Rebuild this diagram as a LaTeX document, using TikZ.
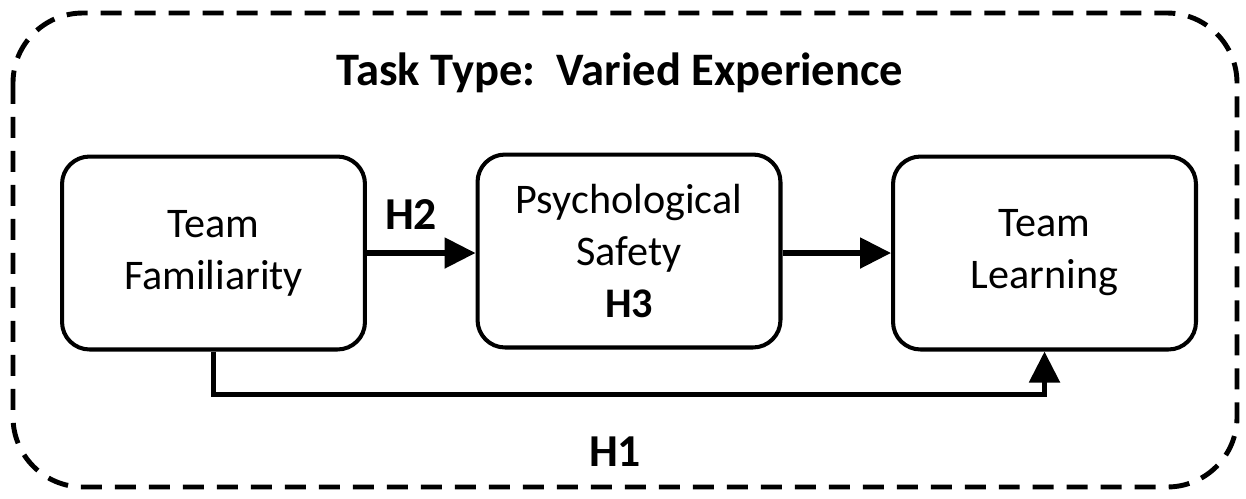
\documentclass[tikz,border=0pt]{standalone}
\usepackage{fontspec}
\setmainfont{Carlito}
\usetikzlibrary{arrows.meta}

\begin{document}
\begin{tikzpicture}[
		x=0.02cm, y=-0.02cm,
		% Stile dei riquadri (angoli arrotondati, bordo spesso)
		box style/.style={draw=black, line width=2.3pt, rounded corners=0.55cm,
			minimum width=6.06cm, minimum height=3.86cm, inner sep=0pt,
			align=center, font=\fontsize{24}{29.5}\selectfont},
		% Stile per le frecce
		arrow style/.style={line width=3pt, -{Triangle[length=0.62cm,width=0.6cm]}},
		% Stile per le etichette H1, H2
		label style/.style={font=\fontsize{26}{31}\selectfont\bfseries},
		% Stile per il titolo
		title style/.style={font=\fontsize{26.5}{32}\selectfont\bfseries},
		% Cornice tratteggiata esterna
		frame style/.style={line width=2.8pt, rounded corners=1.4cm,
			dash pattern=on 0.42cm off 0.26cm}
	]
	\useasboundingbox (0,0) rectangle (1246,498);

	% =================================
	% CORNICE E TITOLO
	% =================================
	\draw[frame style] (13,13) rectangle (1237,487);
	\node[title style] (title) at (620,73) {Task Type:\ \ Varied Experience};

	% =================================
	% RIQUADRI
	% =================================
	\node[box style] (fam) at (213.5,253) {Team\\Familiarity};
	\node[box style] (psy) at (629,251) {Psychological\\Safety\\\textbf{H3}};
	\node[box style] (learn) at (1044.5,253) {Team\\Learning};

	% =================================
	% CONNESSIONI
	% =================================
	\draw[arrow style] (fam.east) -- (fam.east -| psy.west);
	\draw[arrow style] (psy.east |- learn.west) -- (learn.west);
	\draw[arrow style] (fam.south) -- ++(0,43) -| (learn.south);

	% =================================
	% ETICHETTE
	% =================================
	\node[label style] (h2) at (411,215) {H2};
	\node[label style] (h1) at (615,452) {H1};

\end{tikzpicture}
\end{document}
